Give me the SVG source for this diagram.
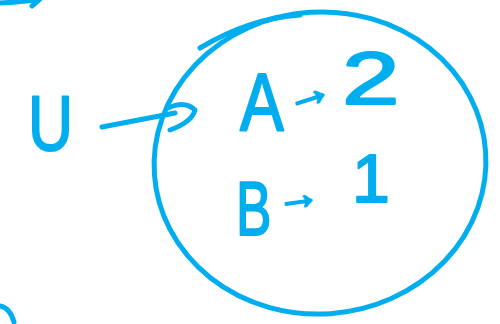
<svg xmlns="http://www.w3.org/2000/svg" width="500" height="324" viewBox="0 0 500 324">
<style>
.ink{fill:none;stroke:#00AEEF;stroke-width:5;stroke-linecap:round;stroke-linejoin:round}
.t{font-family:"Liberation Sans",Arial,sans-serif;fill:#00AEEF;stroke:#00AEEF;stroke-width:2;stroke-linejoin:round}
</style>
<rect width="500" height="324" fill="#ffffff"/>
<g id="strays">
<path class="ink" d="M0 3 Q22 2 40 -1 Q36 3 32 6"/>
<path class="ink" d="M0 306 Q10 308 14 322"/>
</g>
<g id="node-U">
<text class="t" x="28" y="150" font-size="78" transform="translate(28 150) scale(0.8 1) translate(-28 -150)">U</text>
</g>
<g id="node-set">
<ellipse class="ink" cx="320" cy="163" rx="166" ry="151" transform="rotate(-4 320 163)"/>
<path class="ink" stroke-width="2" d="M200 48 Q250 18 300 15"/>
<text class="t" x="240" y="130" font-size="82" transform="translate(240 130) scale(0.8 1) translate(-240 -130)">A</text>
<text class="t" x="284" y="110" font-size="48" stroke-width="3" transform="rotate(-18 300 95)">→</text>
<text class="t" x="342" y="104" font-size="74" transform="translate(342 104) scale(1.4 1) translate(-342 -104)">2</text>
<text class="t" x="236" y="235" font-size="76" transform="translate(236 235) scale(0.7 1) translate(-236 -235)">B</text>
<text class="t" x="276" y="210" font-size="44" stroke-width="3" transform="rotate(-8 295 198)">→</text>
<text class="t" x="352" y="202" font-size="68">1</text>
</g>
<g id="connectors">
<path class="ink" d="M102 127 L175 113"/>
<path class="ink" stroke-width="7" d="M168 108 Q185 100 195 110 Q192 122 170 130"/>
</g>
</svg>
